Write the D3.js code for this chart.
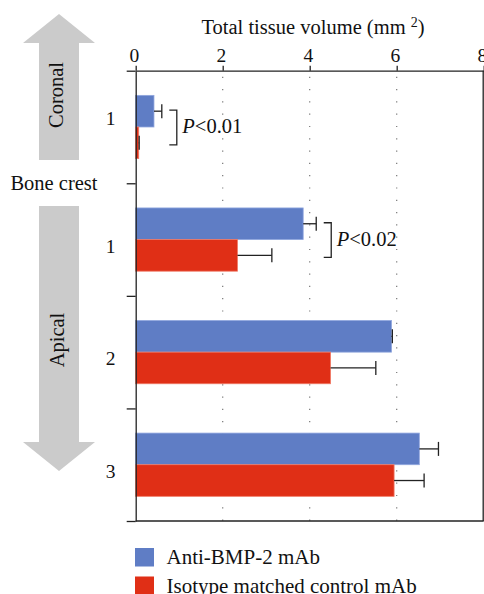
<!DOCTYPE html>
<html>
<head>
<meta charset="utf-8">
<script src="https://cdn.jsdelivr.net/npm/d3@7"></script>
<style>
  html, body { margin: 0; padding: 0; background: #fff; }
  svg { display: block; font-family: "Liberation Serif", "DejaVu Serif", serif; }
  svg text { font-family: "Liberation Serif", "DejaVu Serif", serif; }
</style>
</head>
<body>
<svg id="chart" width="484" height="594"></svg>
<script>
// ---- data ----
const groups = ["Coronal 1", "Apical 1", "Apical 2", "Apical 3"];
const groupLabels = ["1", "1", "2", "3"];
const seriesNames = ["Anti-BMP-2 mAb", "Isotype matched control mAb"];
const antiBMP2 = [0.42, 3.85, 5.88, 6.52];
const antiBMP2Err = [0.18, 0.30, 0.02, 0.44];
const control = [0.07, 2.34, 4.48, 5.94];
const controlErr = [0.01, 0.79, 1.04, 0.69];
const xTicks = [0, 2, 4, 6, 8];
const gridTicks = [2, 4, 6];
const axisTitle = "Total tissue volume (mm";
const pValues = [{group: "Coronal 1", label: "<0.01"}, {group: "Apical 1", label: "<0.02"}];
const colors = ["#5f7dc5", "#e02f16"];
const strokeColors = ["#90a6de", "#f07a66"];

// ---- layout ----
const svg = d3.select("#chart");
const mLeft = 135.7, mRight = 483.7, mTop = 70.7, mBottom = 521;

const x = d3.scaleLinear().domain([0, 8]).range([mLeft, mRight]);
const y0 = d3.scaleBand().domain(groups).range([mTop, mBottom]).padding(0);
const y1 = d3.scaleBand().domain(seriesNames).range([0, y0.bandwidth()]).paddingInner(0).paddingOuter(0.78);

// dotted grid
svg.append("g").selectAll("line").data(gridTicks).join("line")
  .attr("x1", d => x(d)).attr("x2", d => x(d))
  .attr("y1", mTop + 6).attr("y2", mBottom)
  .attr("stroke", "#777").attr("stroke-width", 1.2)
  .attr("stroke-dasharray", "1.2,11.1");

// bars
const values = [antiBMP2, control];
const errs = [antiBMP2Err, controlErr];
const rows = [];
groups.forEach((g, i) => {
  seriesNames.forEach((s, j) => {
    rows.push({g, s, j, v: values[j][i], e: errs[j][i]});
  });
});

const barG = svg.append("g");
barG.selectAll("rect").data(rows).join("rect")
  .attr("x", x(0))
  .attr("y", d => y0(d.g) + y1(d.s))
  .attr("width", d => x(d.v) - x(0))
  .attr("height", y1.bandwidth())
  .attr("fill", d => colors[d.j])
  .attr("stroke", d => strokeColors[d.j])
  .attr("stroke-width", 0.8);

// error bars
const errG = svg.append("g").attr("stroke", "#222").attr("stroke-width", 1.3);
rows.forEach(d => {
  const cy = y0(d.g) + y1(d.s) + y1.bandwidth() / 2;
  errG.append("line").attr("x1", x(d.v)).attr("x2", x(d.v + d.e)).attr("y1", cy).attr("y2", cy);
  errG.append("line").attr("x1", x(d.v + d.e)).attr("x2", x(d.v + d.e)).attr("y1", cy - 7).attr("y2", cy + 7);
});

// frame: right
svg.append("line").attr("x1", mRight - 0.5).attr("x2", mRight - 0.5).attr("y1", mTop).attr("y2", mBottom)
  .attr("stroke", "#222").attr("stroke-width", 1.3);

// top axis
const xAxis = d3.axisTop(x).tickValues(xTicks).tickSize(5).tickSizeOuter(0).tickFormat(d3.format("d"));
const gx = svg.append("g").attr("transform", `translate(0,${mTop})`).call(xAxis);
gx.attr("font-family", null);
gx.select(".domain").attr("stroke", "#222").attr("stroke-width", 1.3);
gx.selectAll(".tick line").attr("stroke", "#222").attr("stroke-width", 1.3);
gx.selectAll(".tick text").attr("font-size", 19.5)
  .attr("fill", "#111").attr("dy", "-0.05em").attr("dx", "-0.1em");

// left axis with boundary ticks
const bounds = groups.map(g => y0(g)).concat([mBottom]);
const yb = d3.scaleLinear().domain([mTop, mBottom]).range([mTop, mBottom]);
const yAxis = d3.axisLeft(yb).tickValues(bounds).tickSize(9).tickSizeOuter(0).tickFormat("");
const gy = svg.append("g").attr("transform", `translate(${mLeft},0)`).call(yAxis);
gy.select(".domain").attr("stroke", "#222").attr("stroke-width", 1.3);
gy.selectAll(".tick line").attr("stroke", "#222").attr("stroke-width", 1.3);
// bottom line
svg.append("line").attr("x1", mLeft).attr("x2", mRight).attr("y1", mBottom).attr("y2", mBottom)
  .attr("stroke", "#222").attr("stroke-width", 1.3);

// group labels
svg.append("g").selectAll("text").data(groups).join("text")
  .attr("x", 110.5)
  .attr("y", (d, i) => y0(d) + y0.bandwidth() / 2 + (i === 0 ? -2 : 13))
  .attr("text-anchor", "middle")
  .attr("font-size", 19.5).attr("fill", "#111")
  .text((d, i) => groupLabels[i]);

// axis title
const title = svg.append("text").attr("x", 313).attr("y", 34).attr("text-anchor", "middle")
  .attr("font-size", 20.5).attr("fill", "#111");
title.append("tspan").text(axisTitle + " ");
title.append("tspan").attr("dy", -7).attr("font-size", 14).text("2");
title.append("tspan").attr("dy", 7).text(")");

// p-value brackets
pValues.forEach(p => {
  const i = groups.indexOf(p.group);
  const top0 = y0(p.group) + y1(seriesNames[0]);
  const yA = top0 + y1.bandwidth() / 2;
  const yB = top0 + y1.bandwidth() * 1.5;
  const xEnd = x(Math.max(antiBMP2[i] + antiBMP2Err[i], control[i] + controlErr[i]));
  const bx = xEnd + 15;
  const yTop = yA - 1, yBot = yB - 1;
  svg.append("path")
    .attr("d", `M${bx - 7.5},${yTop}H${bx}V${yBot + 3}H${bx - 7.5}`)
    .attr("fill", "none").attr("stroke", "#222").attr("stroke-width", 1.3);
  const t = svg.append("text").attr("x", bx + 5.5).attr("y", (yTop + yBot) / 2 + 7)
    .attr("font-size", 20.5).attr("fill", "#111");
  t.append("tspan").attr("font-style", "italic").text("P");
  t.append("tspan").text(p.label);
});

// side arrows
const grey = "#cbcbcb";
const ax = 59, shaftW = 40, headW = 72;
svg.append("path")
  .attr("d", `M${ax},14 L${ax + headW/2},43 L${ax + shaftW/2},43 L${ax + shaftW/2},160 L${ax - shaftW/2},160 L${ax - shaftW/2},43 L${ax - headW/2},43 Z`)
  .attr("fill", grey);
svg.append("path")
  .attr("d", `M${ax},471 L${ax + headW/2},442 L${ax + shaftW/2},442 L${ax + shaftW/2},206 L${ax - shaftW/2},206 L${ax - shaftW/2},442 L${ax - headW/2},442 Z`)
  .attr("fill", grey);
svg.append("text").attr("transform", "translate(63,95) rotate(-90)")
  .attr("text-anchor", "middle").attr("font-size", 20.5).attr("fill", "#111").text("Coronal");
svg.append("text").attr("transform", "translate(64,340) rotate(-90)")
  .attr("text-anchor", "middle").attr("font-size", 20.5).attr("fill", "#111").text("Apical");
svg.append("text").attr("x", 54).attr("y", 190).attr("text-anchor", "middle")
  .attr("font-size", 20.5).attr("fill", "#111").text("Bone crest");

// legend
const lg = svg.append("g");
seriesNames.forEach((s, j) => {
  const ly = 548 + j * 28.5;
  lg.append("rect").attr("x", 135).attr("y", ly).attr("width", 19).attr("height", 18.5).attr("fill", colors[j]);
  lg.append("text").attr("x", 166.5).attr("y", ly + 16).attr("font-size", 21).attr("fill", "#111").text(s);
});
</script>
</body>
</html>
